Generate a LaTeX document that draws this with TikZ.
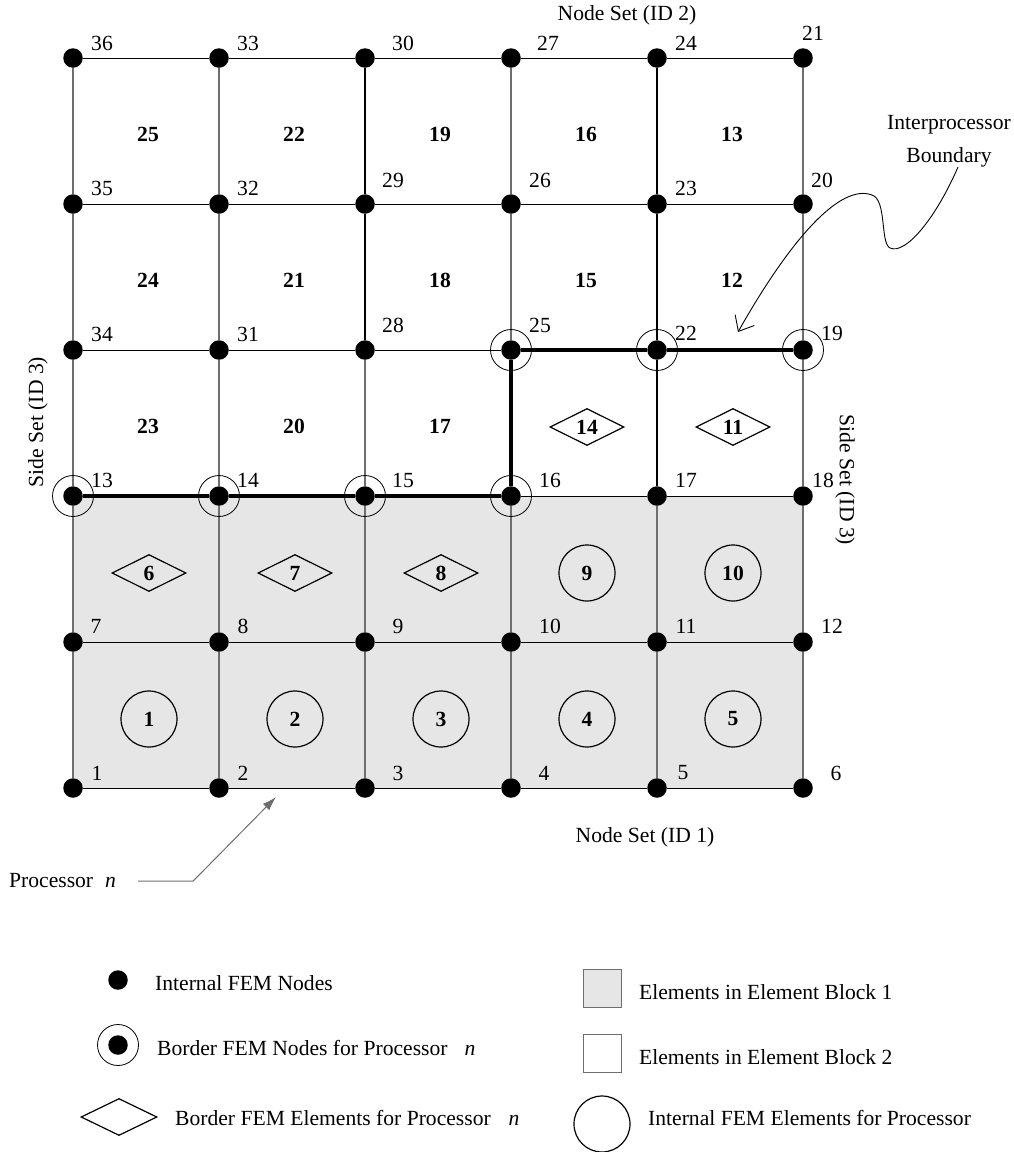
\documentclass[tikz,border=0pt]{standalone}
\usepackage{fontspec}
\setmainfont{Liberation Serif}
\usetikzlibrary{arrows.meta,shapes.geometric}
\newcommand{\fsz}{\fontsize{21.6}{26}\selectfont}

\begin{document}
\begin{tikzpicture}[x=1pt,y=-1pt,
  every node/.style={font=\fsz},
  fem/.style={circle,fill=black,inner sep=0pt,minimum size=19.5pt},
  border/.style={circle,draw=black,line width=0.8pt,inner sep=0pt,minimum size=41pt},
  numlab/.style={inner sep=0pt},
  elemlab/.style={inner sep=0pt,font=\fsz\bfseries},
  intelem/.style={circle,draw,line width=1.2pt,inner sep=0pt,minimum size=56pt,font=\fsz\bfseries},
  bordelem/.style={diamond,aspect=2,draw,line width=1.2pt,inner sep=0pt,minimum width=74pt,minimum height=37pt,font=\fsz\bfseries},
  legtxt/.style={anchor=west,inner sep=0pt},
  hgrid/.style={line width=1pt},
  vgrid/.style={vertGray,line width=1.2pt},
  vdark/.style={black,line width=1.6pt}]

% Colori
\definecolor{blockGray}{HTML}{E6E6E6}
\definecolor{vertGray}{HTML}{6E6E6E}

\useasboundingbox (0,0) rectangle (1014,1152);

% Blocco di elementi 1
\fill[blockGray] (73,496) rectangle (803,788);

% Nodi FEM
\foreach \i in {0,...,5} {
  \foreach \j in {0,...,5} {
    \ifnum\j<3
      \pgfmathtruncatemacro\k{6*\j+\i+1}
    \else
      \pgfmathtruncatemacro\k{19+3*(5-\i)+\j-3}
    \fi
    \node[fem] (n\k) at (73+146*\i,788-146*\j) {};
  }
}

% Linee orizzontali
\draw[hgrid] (n1) -- (n2) -- (n3) -- (n4) -- (n5) -- (n6);
\draw[hgrid] (n7) -- (n8) -- (n9) -- (n10) -- (n11) -- (n12);
\draw[hgrid] (n13) -- (n14) -- (n15) -- (n16) -- (n17) -- (n18);
\draw[hgrid] (n34) -- (n31) -- (n28) -- (n25) -- (n22) -- (n19);
\draw[hgrid] (n35) -- (n32) -- (n29) -- (n26) -- (n23) -- (n20);
\draw[hgrid] (n36) -- (n33) -- (n30) -- (n27) -- (n24) -- (n21);

% Linee verticali
\draw[vgrid] (n1) -- (n7) -- (n13) -- (n34) -- (n35) -- (n36);
\draw[vgrid] (n2) -- (n8) -- (n14) -- (n31) -- (n32) -- (n33);
\draw[vgrid] (n3) -- (n9) -- (n15) -- (n28);
\draw[vdark] (n28) -- (n29) -- (n30);
\draw[vgrid] (n4) -- (n10) -- (n16) -- (n25) -- (n26) -- (n27);
\draw[vgrid] (n5) -- (n11) -- (n17);
\draw[vdark] (n17) -- (n22) -- (n23) -- (n24);
\draw[vgrid] (n6) -- (n12) -- (n18) -- (n19) -- (n20) -- (n21);

% Confine tra processori
\draw[line width=4pt] (n13) -- (n14) -- (n15) -- (n16) -- (n25) -- (n22) -- (n19);

% Nodi di bordo
\foreach \k in {13,14,15,16,25,22,19}
  \node[border] (r\k) at (n\k) {};

% Numeri dei nodi
\foreach \k/\dx/\dy in {1/24/-15,2/24/-15,3/33/-15,4/33/-15,5/26/-15,6/33/-15,
    7/23/-16,8/24/-16,9/33/-16,10/39/-16,11/29/-16,12/29/-16,
    13/29/-16,14/29/-16,15/38/-16,16/39/-16,17/29/-16,18/20/-16,
    19/29/-17,20/19/-24,21/10/-25,22/29/-17,23/29/-16,24/29/-15,
    25/29/-25,26/29/-24,27/37/-15,28/28/-25,29/28/-24,30/38/-15,
    31/29/-16,32/29/-16,33/29/-15,34/29/-16,35/29/-16,36/29/-15}
  \node[numlab] (l\k) at ([shift={(\dx,\dy)}]n\k) {\k};

% Elementi interni
\foreach \e/\i/\j in {1/0/0,2/1/0,3/2/0,4/3/0,5/4/0,9/3/1,10/4/1}
  \node[intelem] (e\e) at (149+146*\i,719-146*\j) {\e};

% Elementi di bordo
\foreach \e/\i/\j in {6/0/1,7/1/1,8/2/1,14/3/2,11/4/2}
  \node[bordelem] (e\e) at (149+146*\i,719-146*\j) {\e};

% Elementi del blocco 2
\foreach \e/\i/\j in {23/0/2,20/1/2,17/2/2,24/0/3,21/1/3,18/2/3,15/3/3,12/4/3,
    25/0/4,22/1/4,19/2/4,16/3/4,13/4/4}
  \node[elemlab] (e\e) at (148+146*\i,718-146*\j) {\e};

% Insiemi di nodi e lati
\node[inner sep=0pt] (ns2) at (627,15) {Node Set (ID 2)};
\node[inner sep=0pt] (ns1) at (645,837) {Node Set (ID 1)};
\node[rotate=90,inner sep=0pt] (ss3l) at (38,422) {Side Set (ID 3)};
\node[rotate=-90,inner sep=0pt] (ss3r) at (845,480) {Side Set (ID 3)};

% Confine tra processori (freccia)
\node[inner sep=0pt] (ipb1) at (949,125) {Interprocessor};
\node[inner sep=0pt] (ipb2) at (949,157) {Boundary};
\coordinate (bndTip) at (738,332);
\draw[line width=0.9pt, -{Straight Barb[length=13pt,width=22pt]}]
  ([xshift=9pt]ipb2.south) .. controls (935,220) and (905,255) .. (890,248)
  .. controls (880,243) and (887,200) .. (872,195)
  .. controls (840,183) and (790,240) .. (bndTip);

% Processore n
\node[legtxt] (proc) at (9,881) {Processor\hspace{12pt}\textit{n}};
\coordinate (procTip) at (276,797);
\draw[vertGray, line width=1pt, -{Latex[length=14pt,width=9pt]}]
  ([xshift=22pt]proc.east) -- ++(55,0) -- (procTip);

% Legenda
\node[fem] (lgInt) at (118,980) {};
\node[legtxt] (lgIntTxt) at (155,983) {Internal FEM Nodes};
\node[fem] (lgBnd) at (118,1045) {};
\node[border] (lgBndRing) at (118,1045) {};
\node[legtxt] (lgBndTxt) at (157,1048) {Border FEM Nodes for Processor\hspace{17pt}\textit{n}};
\node[bordelem,minimum width=76pt] (lgBE) at (119,1117) {};
\node[legtxt] (lgBETxt) at (175,1118) {Border FEM Elements for Processor\hspace{18pt}\textit{n}};
\node[draw=vertGray,fill=blockGray,line width=1pt,inner sep=0pt,minimum size=38pt] (lgB1) at (602,988) {};
\node[legtxt] (lgB1Txt) at (639,992) {Elements in Element Block 1};
\node[draw=vertGray,line width=1pt,inner sep=0pt,minimum size=38pt] (lgB2) at (602,1053) {};
\node[legtxt] (lgB2Txt) at (639,1057) {Elements in Element Block 2};
\node[intelem] (lgIE) at (602,1124) {};
\node[legtxt] (lgIETxt) at (648,1118) {Internal FEM Elements for Processor};
\end{tikzpicture}
\end{document}
